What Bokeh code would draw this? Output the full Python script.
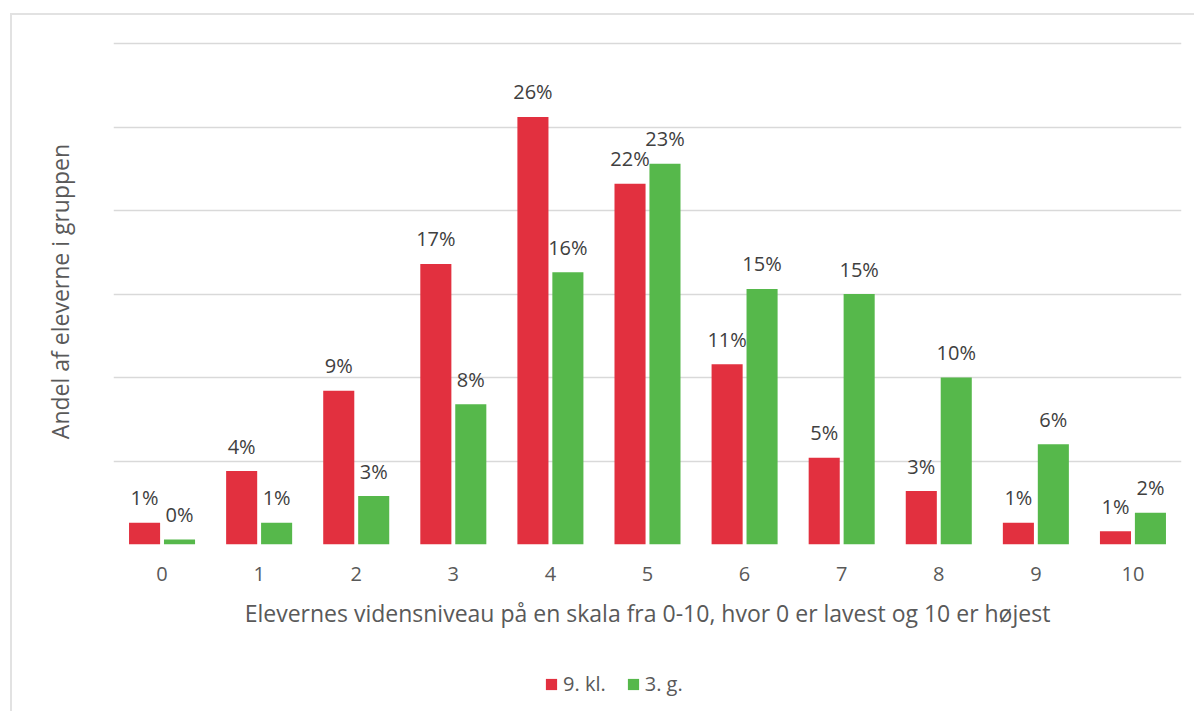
from bokeh.plotting import figure
from bokeh.layouts import column
from bokeh.models import FactorRange, Range1d, FixedTicker, Legend, LegendItem, ColumnDataSource
from bokeh.transform import dodge
from bokeh.core.properties import value
from bokeh.embed import file_html
from bokeh.resources import INLINE

# ---- data (percent of pupils) ----
categories = ["0", "1", "2", "3", "4", "5", "6", "7", "8", "9", "10"]
kl9 = [1.3, 4.4, 9.2, 16.8, 25.6, 21.6, 10.8, 5.2, 3.2, 1.3, 0.8]
g3 = [0.3, 1.3, 2.9, 8.4, 16.3, 22.8, 15.3, 15.0, 10.0, 6.0, 1.9]
series_names = ["9. kl.", "3. g."]
x_title = "Elevernes vidensniveau på en skala fra 0-10, hvor 0 er lavest og 10 er højest"
y_title = "Andel af eleverne i gruppen"
grid_ticks = [0, 5, 10, 15, 20, 25, 30]

RED = "#E2303F"
GREEN = "#56B84B"
FONT = "Open Sans"
BORDER = "2px solid #e2e2e2"

src = ColumnDataSource(dict(
    cat=categories,
    kl9=kl9,
    g3=g3,
    kl9_lbl=[f"{round(v)}%" for v in kl9],
    g3_lbl=[f"{round(v)}%" for v in g3],
))

p = figure(
    x_range=FactorRange(*categories),
    y_range=Range1d(0, 30.3),
    width=1184, height=640,
    output_backend="svg", toolbar_location=None,
    min_border_left=101, min_border_right=15,
    min_border_top=23, min_border_bottom=111,
)
p.margin = (13, 0, 0, 10)
p.styles = {"border-left": BORDER, "border-top": BORDER}
p.outline_line_color = None
p.background_fill_color = "white"
p.border_fill_color = "white"

# y axis: no ticks, title only
p.yaxis.ticker = FixedTicker(ticks=[])
p.yaxis.axis_line_color = None
p.yaxis.major_tick_line_color = None
p.yaxis.minor_tick_line_color = None
p.yaxis.axis_label = y_title
p.yaxis.axis_label_text_font = FONT
p.yaxis.axis_label_text_font_size = "23px"
p.yaxis.axis_label_text_font_style = "normal"
p.yaxis.axis_label_text_color = "#595959"
p.yaxis.axis_label_standoff = 38

# grid
p.xgrid.visible = False
p.ygrid.ticker = FixedTicker(ticks=grid_ticks)
p.ygrid.grid_line_color = "#d9d9d9"
p.ygrid.grid_line_width = 1.5

# x axis
p.xaxis.axis_line_color = None
p.xaxis.major_tick_line_color = None
p.xaxis.minor_tick_line_color = None
p.xaxis.major_tick_out = 0
p.xaxis.major_label_standoff = 22
p.xaxis.major_label_text_font = FONT
p.xaxis.major_label_text_font_size = "20px"
p.xaxis.major_label_text_color = "#595959"
p.xaxis.axis_label = x_title
p.xaxis.axis_label_text_font = FONT
p.xaxis.axis_label_text_font_size = "23px"
p.xaxis.axis_label_text_font_style = "normal"
p.xaxis.axis_label_text_color = "#595959"
p.xaxis.axis_label_standoff = 13

p.vbar(x=dodge("cat", -0.18, range=p.x_range), top="kl9", width=0.32,
       source=src, fill_color=RED, line_color=None)
p.vbar(x=dodge("cat", 0.18, range=p.x_range), top="g3", width=0.32,
       source=src, fill_color=GREEN, line_color=None)

for col, off in (("kl9", -0.18), ("g3", 0.18)):
    p.text(x=dodge("cat", off, range=p.x_range), y=col, text=col + "_lbl",
           source=src, text_align="center", text_baseline="middle", y_offset=-25,
           text_font=value(FONT), text_font_size="20px", text_color="#404040")

# ---- legend strip below the chart ----
lp = figure(
    width=1184, height=58, x_range=Range1d(0, 1), y_range=Range1d(0, 1),
    x_axis_type=None, y_axis_type=None,
    output_backend="svg", toolbar_location=None,
    min_border_left=0, min_border_right=0, min_border_top=0, min_border_bottom=0,
)
lp.margin = (0, 0, 0, 10)
lp.styles = {"border-left": BORDER}
lp.outline_line_color = None
lp.xgrid.visible = False
lp.ygrid.visible = False
# zero-size proxies that only supply the legend swatches
lr1 = lp.rect(x=[0], y=[0], width=0, height=0, fill_color=RED, line_color=None)
lr2 = lp.rect(x=[0], y=[0], width=0, height=0, fill_color=GREEN, line_color=None)

legend = Legend(
    items=[LegendItem(label=series_names[0], renderers=[lr1]),
           LegendItem(label=series_names[1], renderers=[lr2])],
    orientation="horizontal", location=(431, 14),
    padding=0, margin=0, spacing=20, label_standoff=5,
    glyph_width=14, glyph_height=14,
    label_text_font=FONT, label_text_font_size="20px", label_text_color="#595959",
    border_line_color=None, background_fill_alpha=0,
)
lp.add_layout(legend, "center")

layout = column(p, lp, spacing=0)
open("out.html", "w").write(file_html(layout, INLINE))
